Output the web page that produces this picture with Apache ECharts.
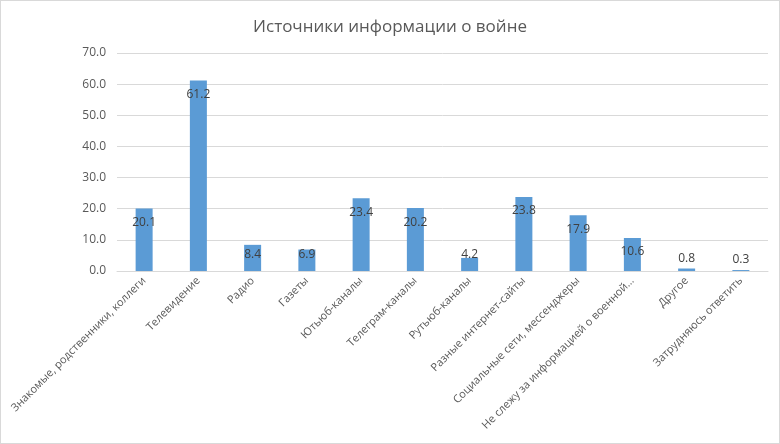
<!DOCTYPE html>
<html>
<head>
<meta charset="utf-8">
<script src="https://cdn.jsdelivr.net/npm/echarts@6/dist/echarts.min.js"></script>
<style>
  html, body { margin: 0; padding: 0; background: #fff; }
  #chart { width: 780px; height: 444px; box-sizing: border-box; border: 1px solid #d9d9d9; }
</style>
</head>
<body>
<div id="chart"></div>
<script>
const categories = [
  'Знакомые, родственники, коллеги',
  'Телевидение',
  'Радио',
  'Газеты',
  'Ютьюб-каналы',
  'Телеграм-каналы',
  'Рутьюб-каналы',
  'Разные интернет-сайты',
  'Социальные сети, мессенджеры',
  'Не слежу за информацией о военной...',
  'Другое',
  'Затрудняюсь ответить'
]
const values = [20.1, 61.2, 8.4, 6.9, 23.4, 20.2, 4.2, 23.8, 17.9, 10.6, 0.8, 0.3]

const FONT = '"Open Sans", "Noto Sans", sans-serif'

// Excel-style label placement: inside end for tall bars, above for tiny ones
function labelFor(v) {
  if (v >= 10) return { position: 'insideTop', distance: 8 }
  if (v >= 2) return { position: 'insideBottom', distance: 10 }
  return { position: 'top', distance: 4 }
}

const chart = echarts.init(document.getElementById('chart'))

chart.setOption({
  backgroundColor: '#fff',
  animation: false,
  title: {
    text: 'Источники информации о войне',
    left: 'center',
    top: 13,
    textStyle: {
      fontFamily: FONT,
      fontSize: 17,
      fontWeight: 'normal',
      color: '#595959',
    },
  },
  grid: {
    left: 116,
    right: 11,
    top: 52,
    bottom: 172,
  },
  xAxis: {
    type: 'category',
    data: categories,
    axisLine: { lineStyle: { color: '#d9d9d9' } },
    axisTick: { show: false },
    axisLabel: {
      rotate: 45,
      interval: 0,
      margin: 8,
      color: '#595959',
      fontFamily: FONT,
      fontSize: 11,
    },
  },
  yAxis: {
    type: 'value',
    min: 0,
    max: 70,
    interval: 10,
    axisLine: { show: false },
    axisTick: { show: false },
    splitLine: { lineStyle: { color: '#d9d9d9' } },
    axisLabel: {
      margin: 11,
      color: '#595959',
      fontFamily: FONT,
      fontSize: 12,
      formatter: v => v.toFixed(1),
    },
  },
  series: [
    {
      type: 'bar',
      barWidth: 17,
      itemStyle: { color: '#5b9bd5' },
      label: {
        show: true,
        color: '#404040',
        fontFamily: FONT,
        fontSize: 12,
        formatter: p => p.value.toFixed(1),
      },
      data: values.map(v => ({ value: v, label: labelFor(v) })),
    },
  ],
})
</script>
</body>
</html>
